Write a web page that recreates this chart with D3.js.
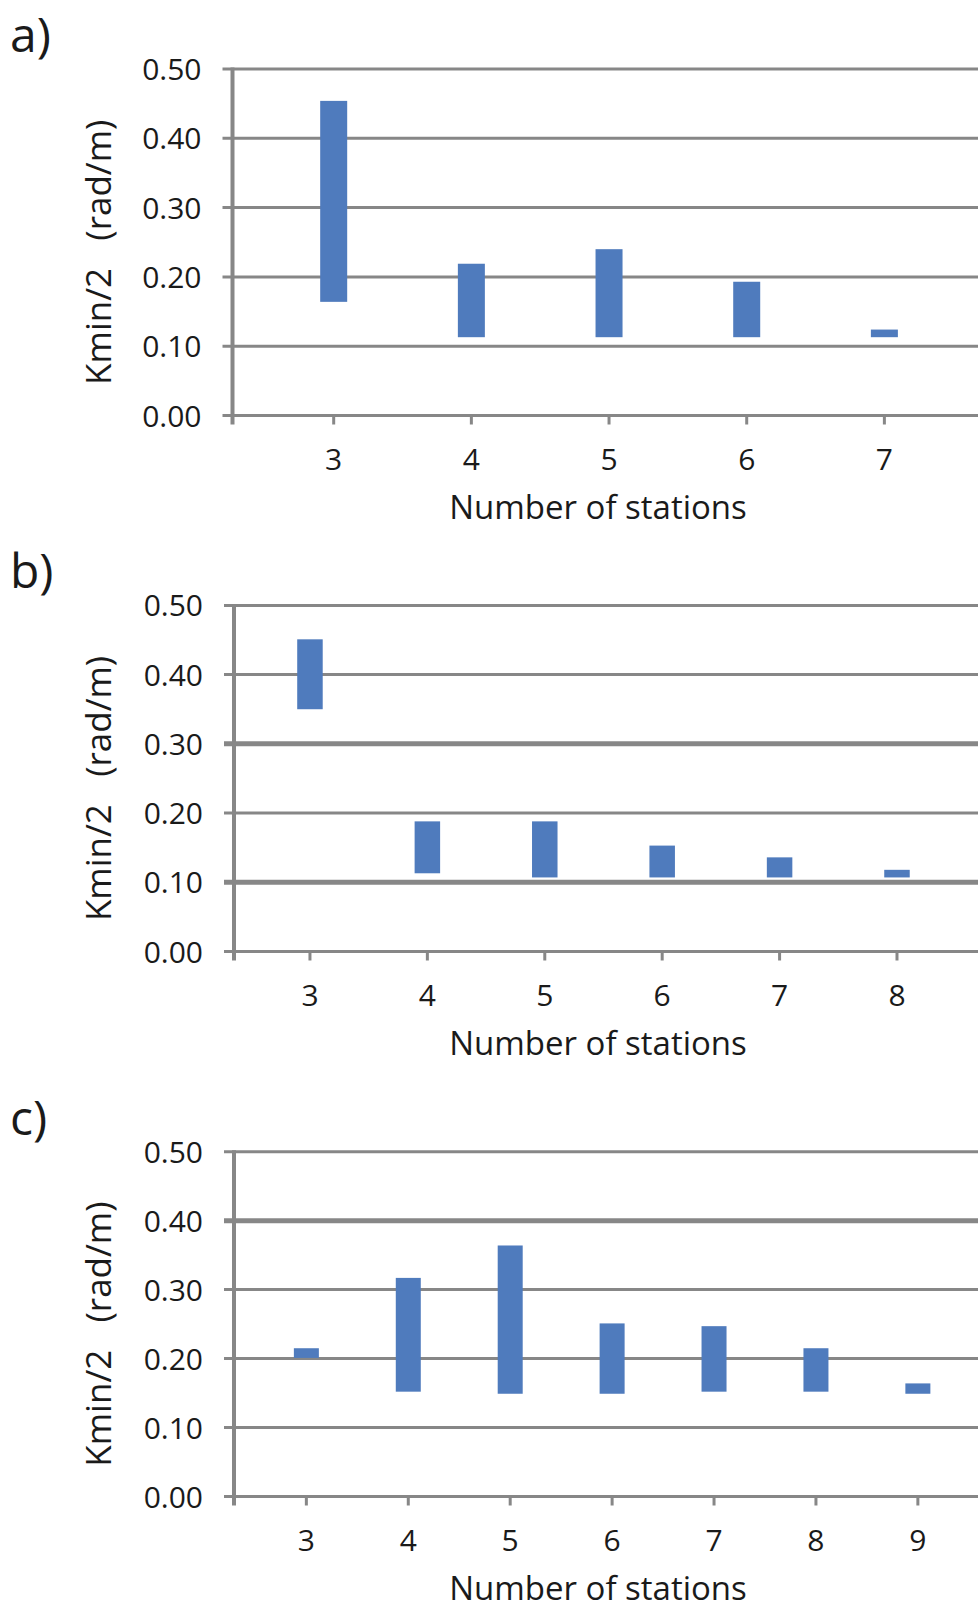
<!DOCTYPE html>
<html>
<head>
<meta charset="utf-8">
<script src="https://cdn.jsdelivr.net/npm/d3@7"></script>
<style>
  html, body { margin: 0; padding: 0; background: #fff; }
  svg { display: block; }
  text { font-family: "Open Sans", "DejaVu Sans", sans-serif; fill: #1a1a1a; }
</style>
</head>
<body>
<svg id="chart" width="978" height="1610"></svg>
<script>
// Kmin/2 ranges (low .. high) per number of stations, three configurations
const stationsA = [3, 4, 5, 6, 7];
const lowA  = [0.164, 0.113, 0.113, 0.113, 0.113];
const highA = [0.454, 0.219, 0.240, 0.193, 0.124];

const stationsB = [3, 4, 5, 6, 7, 8];
const lowB  = [0.350, 0.113, 0.107, 0.107, 0.107, 0.107];
const highB = [0.451, 0.188, 0.188, 0.153, 0.136, 0.118];

const stationsC = [3, 4, 5, 6, 7, 8, 9];
const lowC  = [0.201, 0.152, 0.149, 0.149, 0.152, 0.152, 0.149];
const highC = [0.215, 0.317, 0.364, 0.251, 0.247, 0.215, 0.164];

const yTicks = [0, 0.1, 0.2, 0.3, 0.4, 0.5];
const panelLabels = ["a)", "b)", "c)"];
const xTitle = "Number of stations";
const yTitle = "Kmin/2   (rad/m)";

// Layout of each panel
const panels = [
  { label: panelLabels[0], stations: stationsA, low: lowA, high: highA,
    top: 69, bottom: 415.5, left: 232.5, xDomain: [2.265, 7.68], barW: 27, thick: [] },
  { label: panelLabels[1], stations: stationsB, low: lowB, high: highB,
    top: 605.4, bottom: 951.5, left: 234, xDomain: [2.353, 8.69], barW: 25.5, thick: [0.1, 0.3] },
  { label: panelLabels[2], stations: stationsC, low: lowC, high: highC,
    top: 1151.7, bottom: 1496.5, left: 234, xDomain: [2.29, 9.59], barW: 25, thick: [0.4] }
];

const W = 978;
const gridColor = "#878787";
const barColor = "#4f7bbd";
const svg = d3.select("#chart");

panels.forEach(p => {
  const g = svg.append("g");
  const x = d3.scaleLinear().domain(p.xDomain).range([p.left, W]);
  const y = d3.scaleLinear().domain([0, 0.5]).range([p.bottom, p.top]);

  // horizontal gridlines (with short outward ticks on the left)
  g.selectAll("line.grid").data(yTicks).join("line")
    .attr("class", "grid")
    .attr("x1", p.left - 10).attr("x2", W)
    .attr("y1", d => y(d)).attr("y2", d => y(d))
    .attr("stroke", gridColor)
    .attr("stroke-width", d => p.thick.some(t => Math.abs(t - d) < 1e-9) ? 5 : 3);

  // vertical axis line
  g.append("line")
    .attr("x1", p.left).attr("x2", p.left)
    .attr("y1", p.top - 1.5).attr("y2", p.bottom + 9)
    .attr("stroke", gridColor).attr("stroke-width", 4);

  // x ticks
  g.selectAll("line.xtick").data(p.stations).join("line")
    .attr("class", "xtick")
    .attr("x1", d => x(d)).attr("x2", d => x(d))
    .attr("y1", p.bottom).attr("y2", p.bottom + 9)
    .attr("stroke", gridColor).attr("stroke-width", 3);

  // y tick labels
  g.selectAll("text.ylab").data(yTicks).join("text")
    .attr("class", "ylab")
    .attr("x", p.left - 31)
    .attr("y", d => y(d) + 11)
    .attr("text-anchor", "end")
    .attr("font-size", 30)
    .text(d => d3.format(".2f")(d));

  // x tick labels
  g.selectAll("text.xlab").data(p.stations).join("text")
    .attr("class", "xlab")
    .attr("x", d => x(d))
    .attr("y", p.bottom + 54)
    .attr("text-anchor", "middle")
    .attr("font-size", 30)
    .text(d => d);

  // range bars
  g.selectAll("rect.bar").data(p.stations).join("rect")
    .attr("class", "bar")
    .attr("x", d => x(d) - p.barW / 2)
    .attr("width", p.barW)
    .attr("y", (d, i) => y(p.high[i]))
    .attr("height", (d, i) => y(p.low[i]) - y(p.high[i]))
    .attr("fill", barColor);

  // axis titles
  g.append("text")
    .attr("x", 598).attr("y", p.bottom + 103)
    .attr("text-anchor", "middle")
    .attr("font-size", 33)
    .text(xTitle);

  const cy = (p.top + p.bottom) / 2 + 10;
  g.append("text")
    .attr("transform", `translate(111,${cy}) rotate(-90)`)
    .attr("text-anchor", "middle")
    .attr("font-size", 35)
    .style("white-space", "pre")
    .text(yTitle);

  // panel letter
  g.append("text")
    .attr("x", 10).attr("y", p.top - 17)
    .attr("font-size", 48)
    .text(p.label);
});
</script>
</body>
</html>
